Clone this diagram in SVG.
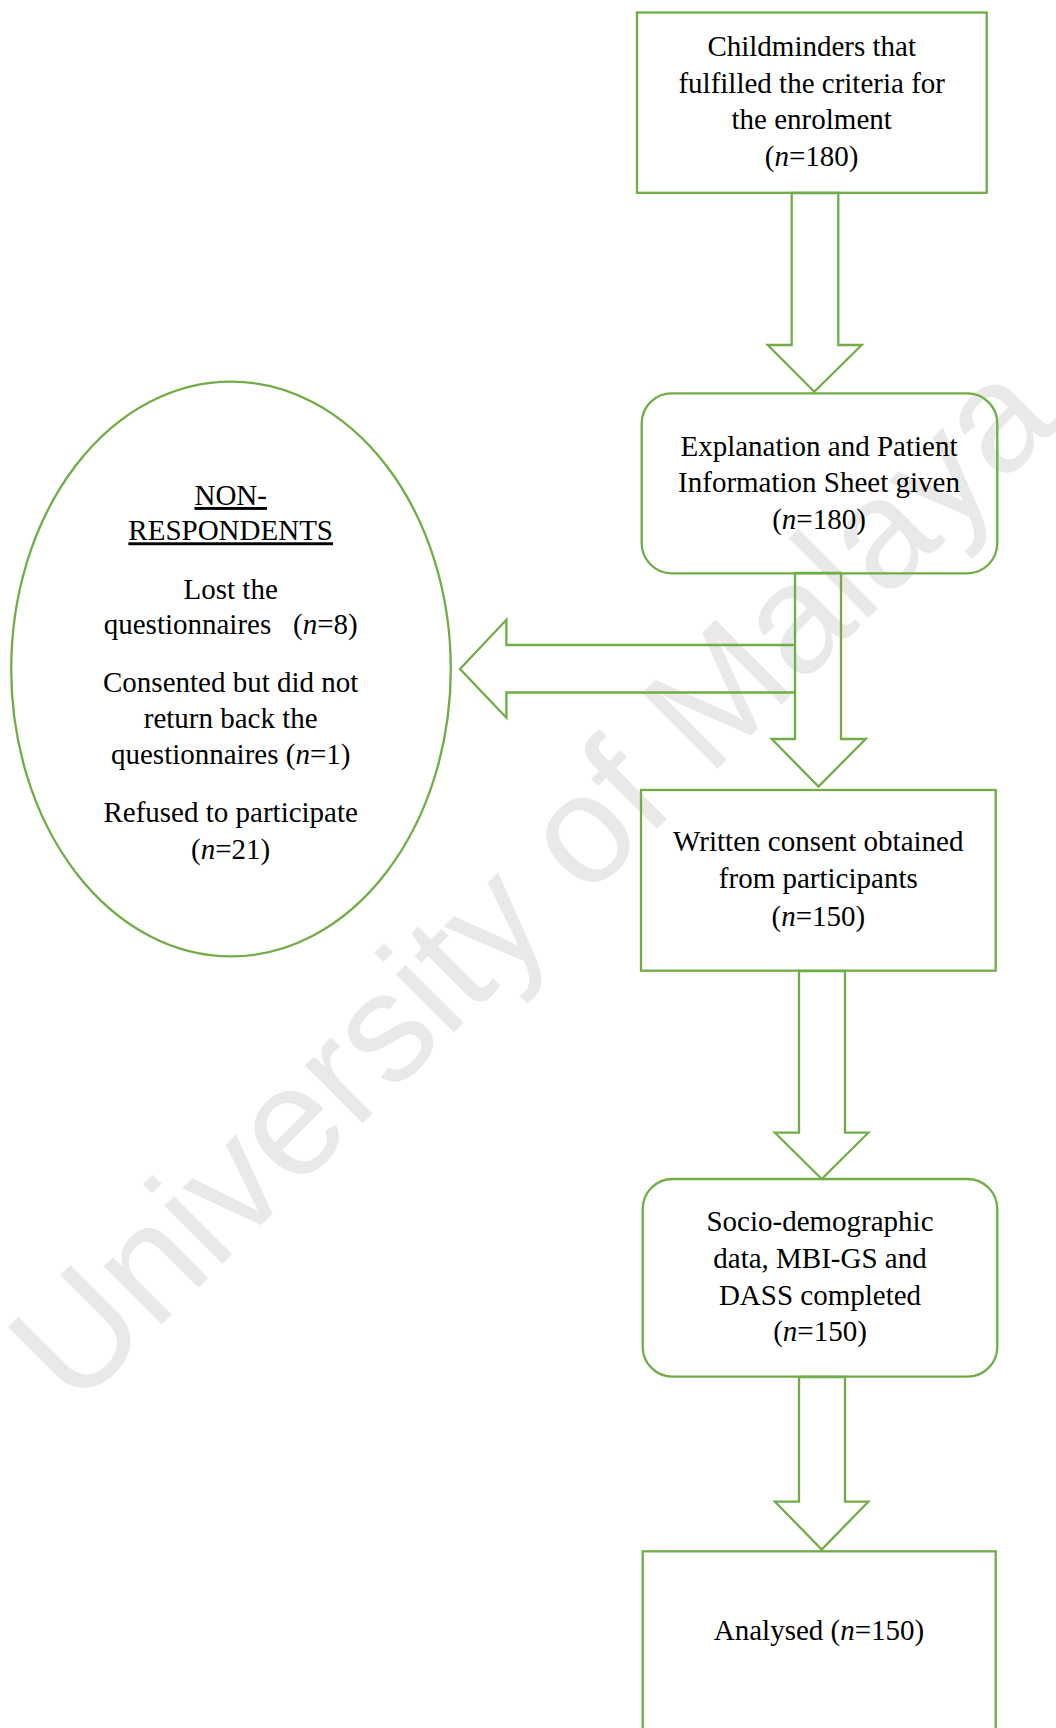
<svg xmlns="http://www.w3.org/2000/svg" width="1056" height="1728" viewBox="0 0 1056 1728">
<style>
.shape{fill:none;stroke:#70ad47;stroke-width:2.3;stroke-linejoin:miter}
.t{font-family:"Liberation Serif","Times New Roman",serif;font-size:29px;fill:#000;text-anchor:middle}
.wm{font-family:"Liberation Sans",Arial,sans-serif;font-size:155px;fill:#e9e9e9}
</style>
<rect x="0" y="0" width="1056" height="1728" fill="#ffffff"/>
<text class="wm" transform="translate(75,1411) rotate(-45)">University of Malaya</text>
<g id="connectors">
<path class="shape" d="M791.7,193 L838.3,193 L838.3,345 L861.7,345 L814.3,391.7 L767.7,345 L791.7,345 Z"/>
<path class="shape" d="M795,645 L506.4,645 L506.4,619.8 L460,669 L506.4,717.7 L506.4,692.5 L795,692.5"/>
<path class="shape" d="M795,573 L841,573 L841,739 L865.7,739 L818.5,786.5 L771.7,739 L795,739 Z"/>
<path class="shape" d="M799,971 L845,971 L845,1132.7 L868.3,1132.7 L821.7,1179 L775,1132.7 L799,1132.7 Z"/>
<path class="shape" d="M799,1377 L845,1377 L845,1501.7 L868.3,1501.7 L821.7,1549.5 L775,1501.7 L799,1501.7 Z"/>
</g>
<g id="node-enrolment">
<rect class="shape" x="637" y="12.5" width="349.7" height="180.3"/>
<text class="t" x="811.7" y="56">Childminders that</text>
<text class="t" x="811.7" y="92.7">fulfilled the criteria for</text>
<text class="t" x="811.7" y="129">the enrolment</text>
<text class="t" x="811.7" y="166">(<tspan font-style="italic">n</tspan>=180)</text>
</g>
<g id="node-explanation">
<rect class="shape" x="641.7" y="393.3" width="355.6" height="180" rx="30" ry="30"/>
<text class="t" x="819" y="456">Explanation and Patient</text>
<text class="t" x="819" y="492">Information Sheet given</text>
<text class="t" x="819" y="529">(<tspan font-style="italic">n</tspan>=180)</text>
</g>
<g id="node-nonrespondents">
<ellipse class="shape" cx="231" cy="669" rx="219.8" ry="287.4"/>
<text class="t" x="230.7" y="505" text-decoration="underline">NON-</text>
<text class="t" x="230.7" y="540.3" text-decoration="underline">RESPONDENTS</text>
<text class="t" x="230.7" y="598.5">Lost the</text>
<text class="t" x="230.7" y="634" xml:space="preserve">questionnaires   (<tspan font-style="italic">n</tspan>=8)</text>
<text class="t" x="230.7" y="691.5">Consented but did not</text>
<text class="t" x="230.7" y="727.8">return back the</text>
<text class="t" x="230.7" y="764.2">questionnaires (<tspan font-style="italic">n</tspan>=1)</text>
<text class="t" x="230.7" y="821.6">Refused to participate</text>
<text class="t" x="230.7" y="859.1">(<tspan font-style="italic">n</tspan>=21)</text>
</g>
<g id="node-consent">
<rect class="shape" x="641" y="790" width="354.7" height="180.7"/>
<text class="t" x="818.3" y="851">Written consent obtained</text>
<text class="t" x="818.3" y="888.3">from participants</text>
<text class="t" x="818.3" y="925.7">(<tspan font-style="italic">n</tspan>=150)</text>
</g>
<g id="node-completed">
<rect class="shape" x="642.7" y="1179" width="354.6" height="197.7" rx="30" ry="30"/>
<text class="t" x="820" y="1231.4">Socio-demographic</text>
<text class="t" x="820" y="1267.6">data, MBI-GS and</text>
<text class="t" x="820" y="1305">DASS completed</text>
<text class="t" x="820" y="1341.2">(<tspan font-style="italic">n</tspan>=150)</text>
</g>
<g id="node-analysed">
<rect class="shape" x="642.7" y="1551.3" width="353" height="220"/>
<text class="t" x="819" y="1640">Analysed (<tspan font-style="italic">n</tspan>=150)</text>
</g>
</svg>
